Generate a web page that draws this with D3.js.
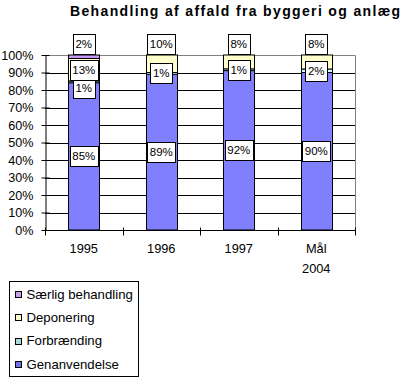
<!DOCTYPE html>
<html>
<head>
<meta charset="utf-8">
<script src="https://cdn.jsdelivr.net/npm/d3@7"></script>
<style>
  html, body { margin: 0; padding: 0; background: #fff; }
  svg { display: block; font-family: Arial, "Liberation Sans", sans-serif; }
</style>
</head>
<body>
<svg id="chart" width="408" height="390"></svg>
<script>
// ---- data ----
const categories = ["1995", "1996", "1997", "Mål 2004"];
const seriesNames = ["Genanvendelse", "Forbrænding", "Deponering", "Særlig behandling"];
const genanvendelse = [85, 89, 92, 90];
const forbraending = [1, 1, 1, 2];
const deponering = [13, 10, 8, 8];
const saerlig = [2, 0, 0, 0];
const yTicks = [0, 0.1, 0.2, 0.3, 0.4, 0.5, 0.6, 0.7, 0.8, 0.9, 1.0];
const title = "Behandling af affald fra byggeri og anlæg";

const seriesValues = [genanvendelse, forbraending, deponering, saerlig];
const colors = ["#8080ff", "#ccffff", "#ffffcc", "#cc99ff"];
const legendColors = ["#7070e8", "#a8d8d8", "#ffffcc", "#c8a0e8"];

const rows = categories.map((c, i) => {
  const r = { cat: c };
  seriesNames.forEach((s, j) => r[s] = seriesValues[j][i]);
  return r;
});

const stacked = d3.stack().keys(seriesNames).offset(d3.stackOffsetExpand)(rows);

// ---- layout ----
const svg = d3.select("#chart");
const pLeft = 45, pRight = 355, pTop = 55, pBottom = 230;

const x = d3.scaleBand().domain(categories).range([pLeft, pRight])
  .paddingInner(0.6).paddingOuter(0.3);
const y = d3.scaleLinear().domain([0, 1]).range([pBottom, pTop]);

// title
svg.append("text")
  .attr("x", 70).attr("y", 16)
  .attr("font-size", 14).attr("font-weight", "bold")
  .attr("textLength", 330).attr("lengthAdjust", "spacing")
  .text(title);

// gridlines
svg.append("g").selectAll("line")
  .data(yTicks.filter(t => t > 0 && t < 1))
  .join("line")
  .attr("x1", pLeft).attr("x2", pRight)
  .attr("y1", d => Math.round(y(d)) + 0.5).attr("y2", d => Math.round(y(d)) + 0.5)
  .attr("stroke", "#000").attr("stroke-width", 1);

// plot frame (top & right grey)
svg.append("path")
  .attr("d", `M${pLeft},${Math.round(y(1)) + 0.5}H${pRight + 0.5}V${pBottom}`)
  .attr("fill", "none").attr("stroke", "#808080");

// bars
const barG = svg.append("g");
stacked.forEach((s, j) => {
  barG.append("g").selectAll("rect")
    .data(s.filter(d => d[1] - d[0] > 0))
    .join("rect")
    .attr("x", d => Math.round(x(d.data.cat)) + 0.5)
    .attr("width", Math.round(x.bandwidth()))
    .attr("y", d => y(d[1]))
    .attr("height", d => y(d[0]) - y(d[1]))
    .attr("fill", colors[j])
    .attr("stroke", "#000").attr("stroke-width", 1);
});

// y axis
const yAxis = d3.axisLeft(y).tickValues(yTicks).tickFormat(d3.format(".0%"))
  .tickSizeInner(4).tickSizeOuter(0).tickPadding(8);
const yg = svg.append("g").attr("transform", `translate(${pLeft + 0.5},0)`).call(yAxis);
yg.select(".domain").attr("stroke", "#000");
yg.selectAll(".tick line").attr("x1", -4).attr("x2", 4).attr("stroke", "#000");
yg.selectAll(".tick text").attr("font-size", 12.6).attr("font-family", "Arial, 'Liberation Sans', sans-serif").attr("fill", "#000");

// x axis
const xg = svg.append("g").attr("transform", `translate(0,${pBottom + 0.5})`);
xg.append("line").attr("x1", pLeft).attr("x2", pRight + 1).attr("stroke", "#000");
const boundaries = categories.map(c => x(c) - x.step() * x.paddingOuter()).concat([pRight]);
xg.selectAll("line.tick").data(boundaries).join("line")
  .attr("class", "tick")
  .attr("x1", d => Math.round(d) + 0.5).attr("x2", d => Math.round(d) + 0.5)
  .attr("y1", -3).attr("y2", 5).attr("stroke", "#000");
const xl = xg.selectAll("text").data(categories).join("text")
  .attr("text-anchor", "middle")
  .attr("font-size", 12.8)
  .attr("y", 22.5);
xl.each(function(d) {
  const parts = d.split(" ");
  const t = d3.select(this);
  parts.forEach((p, i) => {
    t.append("tspan").attr("x", x(d) + x.bandwidth() / 2).attr("dy", i === 0 ? 0 : 19.5).text(p);
  });
});

// data labels
const labelG = svg.append("g");
const boxH = 20;
const labels = [];
categories.forEach((c, i) => {
  const segs = [];
  stacked.forEach((s, j) => {
    const d = s[i];
    const v = seriesValues[j][i];
    if (v > 0) segs.push({ j, v, cat: c, y0: y(d[0]), y1: y(d[1]) });
  });
  // from top series downward
  segs.sort((a, b) => b.j - a.j);
  let prevBottom = -Infinity;
  segs.forEach((s, k) => {
    let cy = (s.y0 + s.y1) / 2;
    if (k === 0 && s.j > 0) cy = y(1) - 1 - boxH / 2;
    let topY = cy - boxH / 2;
    if (topY < prevBottom - 2) topY = prevBottom - 2;
    s.top = topY;
    prevBottom = topY + boxH;
    labels.push(s);
  });
});
labels.sort((a, b) => a.j - b.j);
labels.forEach(s => {
  const g = labelG.append("g");
  const rect = g.append("rect").attr("fill", "#fff").attr("stroke", "#000").attr("stroke-width", 1);
  const t = g.append("text")
    .attr("font-size", 11.5).attr("text-anchor", "middle")
    .attr("x", x(s.cat) + x.bandwidth() / 2)
    .attr("y", s.top + boxH / 2 + 4)
    .text(s.v + "%");
  const w = Math.round(t.node().getComputedTextLength() + 5);
  rect.attr("x", Math.round(x(s.cat) + x.bandwidth() / 2 - w / 2) + 0.5)
    .attr("y", Math.round(s.top) + 0.5)
    .attr("width", w).attr("height", boxH);
});

// legend
const lg = svg.append("g");
lg.append("rect").attr("x", 9.5).attr("y", 281.5).attr("width", 129).attr("height", 95)
  .attr("fill", "#fff").attr("stroke", "#000");
const legendOrder = [3, 2, 1, 0];
legendOrder.forEach((j, k) => {
  const cy = 294 + k * 23.4;
  lg.append("rect").attr("x", 15.5).attr("y", Math.round(cy - 3) + 0.5).attr("width", 6).attr("height", 6)
    .attr("fill", legendColors[j]).attr("stroke", "#000");
  lg.append("text").attr("x", 26.5).attr("y", cy + 4.5).attr("font-size", 13.2).text(seriesNames[j]);
});
</script>
</body>
</html>
